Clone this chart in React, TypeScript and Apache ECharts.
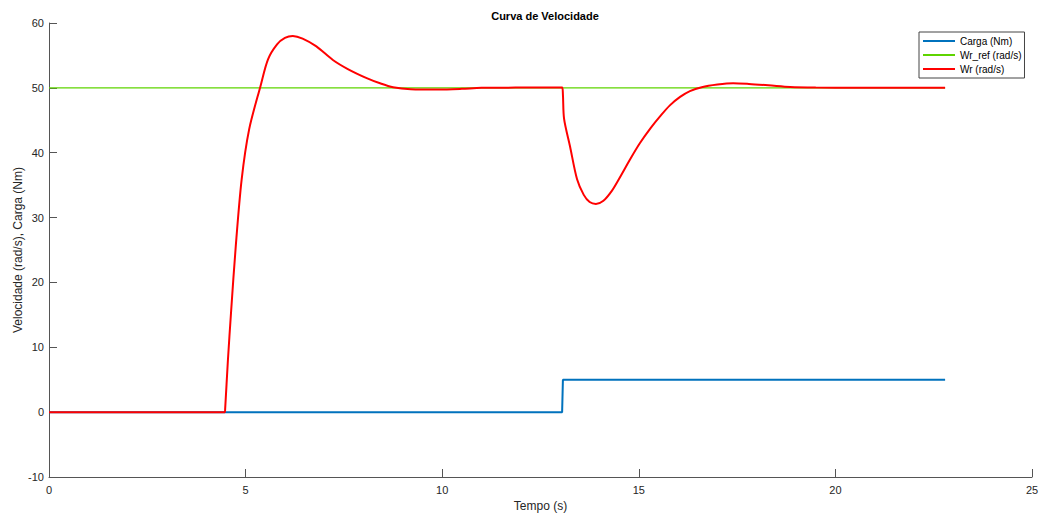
import React, { useEffect, useRef } from "react";
import * as echarts from "echarts";

const seriesNames = ["Carga (Nm)", "Wr_ref (rad/s)", "Wr (rad/s)"];
const xTicks = [0, 5, 10, 15, 20, 25];
const yTicks = [-10, 0, 10, 20, 30, 40, 50, 60];
const yAxisTitle = "Velocidade (rad/s), Carga (Nm)";

const cargaData: [number, number][] = [
  [0, 0], [13.05, 0], [13.07, 5], [22.79, 5],
];

const wrRefData: [number, number][] = [
  [0, 50], [22.79, 50],
];

const wrData: [number, number][] = [
  [0, 0], [4.47, 0], [4.48, 0.5], [4.55, 8.0], [4.63, 15.4], [4.75, 25.6],
  [4.9, 35.9], [5.09, 43.6], [5.38, 50.3], [5.57, 54.4], [5.8, 56.7],
  [6.0, 57.7], [6.2, 58.0], [6.45, 57.6], [6.8, 56.4], [7.22, 54.3],
  [7.6, 52.9], [8.08, 51.5], [8.42, 50.7], [8.75, 50.1], [9.2, 49.8],
  [9.9, 49.75], [10.5, 49.85], [11.0, 50.0], [13.05, 50.05],
  [13.07, 49.0], [13.1, 45.2], [13.25, 41.0], [13.43, 35.9], [13.6, 33.5],
  [13.75, 32.4], [13.91, 32.1], [14.1, 32.6], [14.3, 34.0], [14.5, 36.0],
  [14.78, 39.0], [15.03, 41.5], [15.3, 43.8], [15.54, 45.6], [15.79, 47.3],
  [16.05, 48.6], [16.3, 49.5], [16.6, 50.1], [17.0, 50.5], [17.4, 50.7],
  [17.8, 50.6], [18.3, 50.4], [18.85, 50.15], [19.5, 50.05], [20.5, 50.0],
  [22.79, 50.0],
];

const FONT = "'Liberation Sans', Arial, sans-serif";

export default function App() {
  const ref = useRef<HTMLDivElement>(null);
  useEffect(() => {
    document.body.style.margin = "0";
    const chart = echarts.init(ref.current!, null, { renderer: "svg" });
    chart.setOption({
      animation: false,
      backgroundColor: "#ffffff",
      title: {
        text: "Curva de Velocidade",
        left: 540,
        textAlign: "center",
        top: 5,
        textStyle: { fontFamily: FONT, fontSize: 11, fontWeight: "bold", color: "#000" },
      },
      graphic: [
        {
          type: "text",
          x: 18,
          y: 250,
          rotation: Math.PI / 2,
          style: {
            text: yAxisTitle,
            fontFamily: FONT,
            fontSize: 12,
            fill: "#262626",
            align: "center",
            verticalAlign: "middle",
          },
        },
      ],
      legend: {
        data: seriesNames,
        orient: "vertical",
        left: 919,
        top: 32,
        padding: [3, 3, 3, 4],
        itemGap: 2,
        itemWidth: 32,
        itemHeight: 2,
        icon: "rect",
        borderColor: "#444",
        borderWidth: 1,
        borderRadius: 0,
        textStyle: { fontFamily: FONT, fontSize: 10, color: "#000", lineHeight: 12 },
      },
      grid: {
        left: 49, right: 8, top: 23, bottom: 36,
        containLabel: false,
        outerBoundsMode: "none",
      },
      xAxis: {
        type: "value",
        min: xTicks[0],
        max: xTicks[xTicks.length - 1],
        interval: 5,
        name: "Tempo (s)",
        nameLocation: "middle",
        nameGap: 21,
        nameTextStyle: { fontFamily: FONT, fontSize: 12, color: "#262626" },
        axisLine: { show: true, onZero: false, lineStyle: { color: "#555", width: 1 } },
        axisTick: { show: true, inside: true, length: 8, lineStyle: { color: "#555" } },
        axisLabel: { fontFamily: FONT, fontSize: 11, color: "#262626", margin: 7 },
        splitLine: { show: false },
      },
      yAxis: {
        type: "value",
        min: yTicks[0],
        max: yTicks[yTicks.length - 1],
        interval: 10,
        axisLine: { show: true, onZero: false, lineStyle: { color: "#555", width: 1 } },
        axisTick: { show: true, inside: true, length: 8, lineStyle: { color: "#555" } },
        axisLabel: { fontFamily: FONT, fontSize: 11, color: "#262626", margin: 5 },
        splitLine: { show: false },
      },
      series: [
        {
          name: seriesNames[0],
          type: "line",
          data: cargaData,
          symbol: "none",
          lineStyle: { color: "#0072BD", width: 2 },
          itemStyle: { color: "#0072BD" },
        },
        {
          name: seriesNames[1],
          type: "line",
          data: wrRefData,
          symbol: "none",
          lineStyle: { color: "#5ed400", width: 1.2 },
          itemStyle: { color: "#5ed400" },
        },
        {
          name: seriesNames[2],
          type: "line",
          data: wrData,
          symbol: "none",
          smooth: 0.3,
          lineStyle: { color: "#ff0000", width: 2 },
          itemStyle: { color: "#ff0000" },
        },
      ],
    });
    return () => chart.dispose();
  }, []);
  return <div ref={ref} style={{ width: 1040, height: 513 }} />;
}
